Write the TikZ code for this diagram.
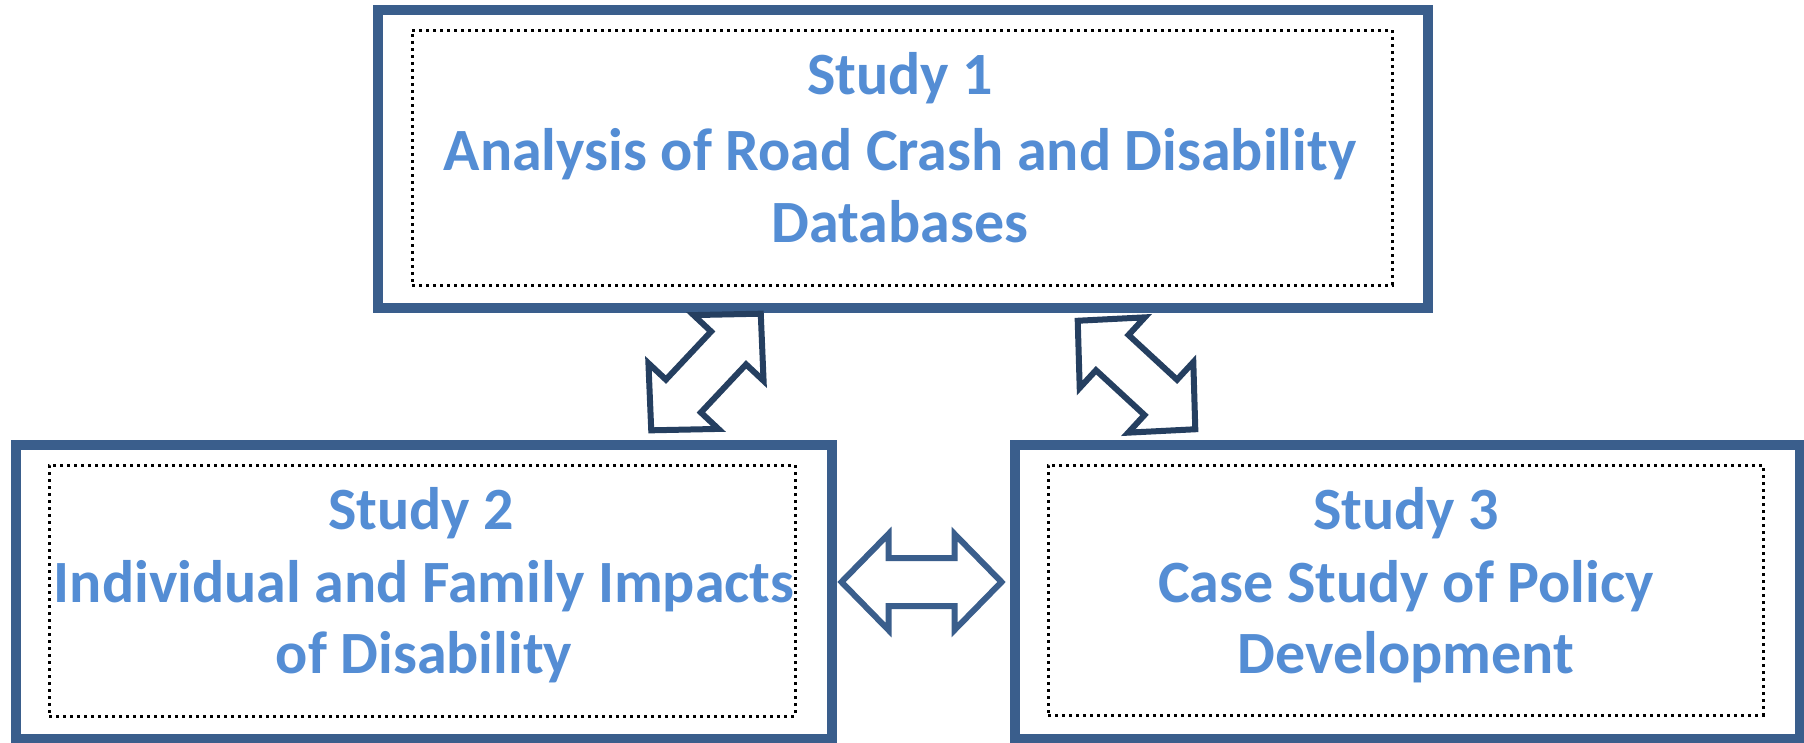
\documentclass[tikz,border=0pt]{standalone}
\usepackage{fontspec}
\setmainfont{Carlito}
\definecolor{boxblue}{RGB}{58,94,140}
\definecolor{arrownavy}{RGB}{37,63,96}
\definecolor{textblue}{RGB}{84,141,212}
\tikzset{
  outerbox/.style={draw=boxblue, line width=10pt, rectangle, inner sep=0pt, outer sep=0pt},
  innerbox/.style={draw=black, line width=3pt, dash pattern=on 3pt off 4pt, rectangle, inner sep=0pt, outer sep=0pt},
  label/.style={anchor=base, inner sep=0pt, text=textblue, font=\fontsize{60}{74}\selectfont\bfseries},
  blockarrow/.style={draw=arrownavy, line width=6pt, fill=white, line join=miter}
}
\newcommand\dblarrowpath{(-80,0) -- (-33,48) -- (-33,24) -- (33,24) -- (33,48) -- (80,0) -- (33,-48) -- (33,-24) -- (-33,-24) -- (-33,-48) -- cycle}
\begin{document}
\begin{tikzpicture}[x=1pt,y=-1pt]
\useasboundingbox (0,0) rectangle (1804,742);
% boxes
\node[outerbox, minimum width=1050pt, minimum height=298pt] (b1) at (903,159) {};
\node[innerbox, minimum width=980pt, minimum height=255pt] (i1) at (902,157.5) {};
\node[outerbox, minimum width=816pt, minimum height=294pt] (b2) at (424,592) {};
\node[innerbox, minimum width=746pt, minimum height=251pt] (i2) at (422,590.5) {};
\node[outerbox, minimum width=785pt, minimum height=294pt] (b3) at (1407.5,592) {};
\node[innerbox, minimum width=715pt, minimum height=250pt] (i3) at (1405.5,590) {};
% texts
\node[label] (t1a) at (900,94) {Study 1};
\node[label] (t1b) at (900,170) {Analysis of Road Crash and Disability};
\node[label] (t1c) at (900,242) {Databases};
\node[label] (t2a) at (421,529) {Study 2};
\node[label] (t2b) at (424,602) {Individual and Family Impacts};
\node[label] (t2c) at (424,673) {of Disability};
\node[label] (t3a) at (1406,529) {Study 3};
\node[label] (t3b) at (1406,602) {Case Study of Policy};
\node[label] (t3c) at (1406,673) {Development};
% block arrows
\begin{scope}[shift={(706,372)}, rotate=46.8]
  \draw[blockarrow] \dblarrowpath;
\end{scope}
\begin{scope}[shift={(1136.5,375)}, rotate=-42.7]
  \draw[blockarrow] \dblarrowpath;
\end{scope}
\begin{scope}[shift={(921.5,582)}]
  \draw[blockarrow, draw=boxblue] \dblarrowpath;
\end{scope}
\end{tikzpicture}
\end{document}
